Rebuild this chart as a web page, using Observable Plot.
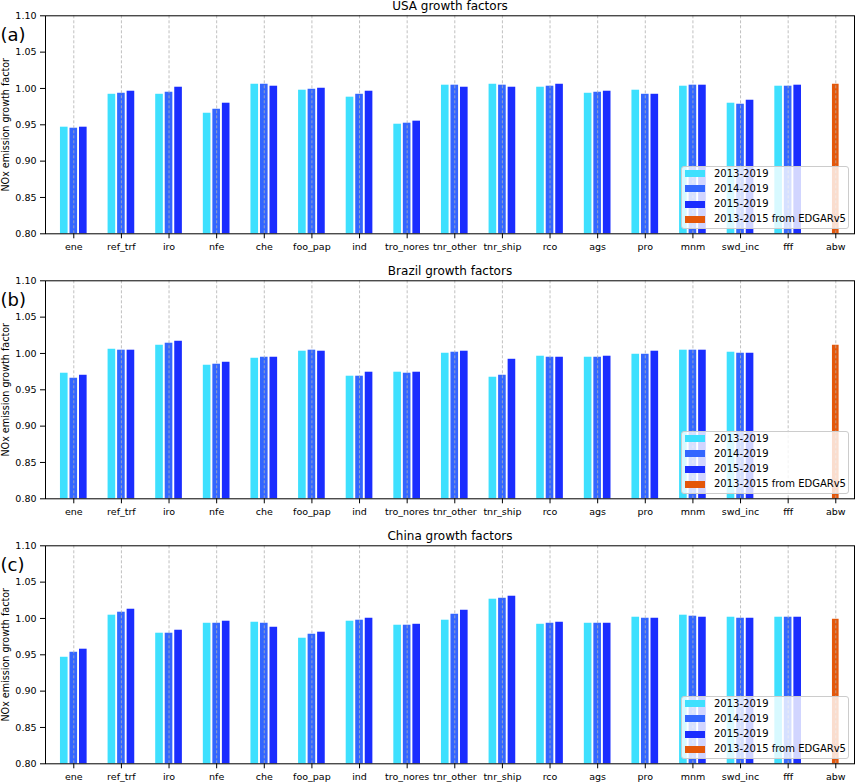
<!DOCTYPE html>
<html>
<head>
<meta charset="utf-8">
<script src="https://cdn.jsdelivr.net/npm/d3@7"></script>
<script src="https://cdn.jsdelivr.net/npm/@observablehq/plot@0.6"></script>
<style>
  html, body { margin: 0; padding: 0; background: white; overflow: hidden; }
  body { width: 855px; height: 783px; font-family: "DejaVu Sans", sans-serif; }
  .panel { position: relative; width: 855px; }
  .legend { position: absolute; left: 681px; top: 165.5px; width: 168px; height: 63px;
    background: rgba(255,255,255,0.8); border: 1px solid #cccccc; border-radius: 3px; box-sizing: border-box; }
  .legend .sw { position: absolute; left: 3px; width: 20px; height: 7px; }
  .legend .lb { position: absolute; left: 32px; font-size: 10px; line-height: 12px; color: black; white-space: nowrap; }
</style>
</head>
<body>
<div id="root"></div>
<script>
// ---------- data ----------
const categories = ["ene","ref_trf","iro","nfe","che","foo_pap","ind","tro_nores","tnr_other","tnr_ship","rco","ags","pro","mnm","swd_inc","fff","abw"];
const seriesNames = ["2013-2019","2014-2019","2015-2019","2013-2015 from EDGARv5"];
const seriesColors = ["#3ee0fe","#3366ff","#1a2dff","#e4570a"];
const yTicks = [0.80,0.85,0.90,0.95,1.00,1.05,1.10];
const panelTitles = ["USA growth factors","Brazil growth factors","China growth factors"];
const panelLetters = ["(a)","(b)","(c)"];

const usa2013 = [0.9467,0.9920,0.9920,0.9659,1.0058,0.9976,0.9880,0.9508,1.0045,1.0058,1.0017,0.9934,0.9976,1.0031,0.9797,1.0031,null];
const usa2014 = [0.9453,0.9934,0.9948,0.9714,1.0058,0.9989,0.9920,0.9522,1.0045,1.0045,1.0031,0.9948,0.9920,1.0045,0.9783,1.0031,null];
const usa2015 = [0.9467,0.9962,1.0017,0.9797,1.0031,1.0003,0.9962,0.9550,1.0017,1.0017,1.0058,0.9962,0.9920,1.0045,0.9838,1.0045,null];
const usaEdgar = [null,null,null,null,null,null,null,null,null,null,null,null,null,null,null,null,1.0058];

const bra2013 = [0.9728,1.0058,1.0113,0.9838,0.9934,1.0031,0.9687,0.9742,1.0003,0.9673,0.9962,0.9948,0.9989,1.0045,1.0017,null,null];
const bra2014 = [0.9659,1.0045,1.0141,0.9852,0.9948,1.0045,0.9687,0.9728,1.0017,0.9700,0.9948,0.9948,0.9989,1.0045,1.0003,null,null];
const bra2015 = [0.9700,1.0045,1.0168,0.9879,0.9948,1.0031,0.9742,0.9742,1.0031,0.9920,0.9948,0.9962,1.0031,1.0045,1.0003,null,null];
const braEdgar = [null,null,null,null,null,null,null,null,null,null,null,null,null,null,null,null,1.0113];

const chn2013 = [0.9466,1.0045,0.9797,0.9934,0.9948,0.9728,0.9962,0.9907,0.9976,1.0265,0.9920,0.9934,1.0017,1.0045,1.0017,1.0017,null];
const chn2014 = [0.9535,1.0086,0.9797,0.9934,0.9934,0.9783,0.9976,0.9907,1.0058,1.0278,0.9934,0.9934,1.0003,1.0031,1.0003,1.0017,null];
const chn2015 = [0.9577,1.0127,0.9838,0.9962,0.9879,0.9811,1.0003,0.9920,1.0113,1.0306,0.9948,0.9934,1.0003,1.0017,1.0003,1.0017,null];
const chnEdgar = [null,null,null,null,null,null,null,null,null,null,null,null,null,null,null,null,0.9989];

const panels = [
  [usa2013, usa2014, usa2015, usaEdgar],
  [bra2013, bra2014, bra2015, braEdgar],
  [chn2013, chn2014, chn2015, chnEdgar]
];

// ---------- drawing ----------
const offsets = {"2013-2019": -0.2, "2014-2019": 0, "2015-2019": 0.2, "2013-2015 from EDGARv5": 0};
const widths = {"2013-2019": 0.16, "2014-2019": 0.16, "2015-2019": 0.16, "2013-2015 from EDGARv5": 0.14};
const indices = categories.map((c, i) => i);
const heights = [265, 265, 253];
const root = document.getElementById("root");

panels.forEach((arrs, p) => {
  const rows = [];
  arrs.forEach((arr, s) => {
    arr.forEach((v, i) => {
      if (v != null) rows.push({i, s: seriesNames[s], v});
    });
  });
  const H = heights[p];
  const chart = Plot.plot({
    width: 855,
    height: H,
    marginLeft: 45,
    marginRight: 1,
    marginTop: 15.3,
    marginBottom: H - 233.3,
    style: {fontFamily: "DejaVu Sans", fontSize: "9.5px", color: "black", background: "white", overflow: "visible"},
    x: {type: "linear", domain: [-0.594, 16.393]},
    y: {domain: [0.8, 1.1]},
    color: {domain: seriesNames, range: seriesColors},
    marks: [
      Plot.rectY(rows, {
        x1: d => d.i + offsets[d.s] - widths[d.s] / 2,
        x2: d => d.i + offsets[d.s] + widths[d.s] / 2,
        y1: () => 0.8,
        y2: "v",
        fill: "s"
      }),
      Plot.ruleX(indices, {stroke: "#b0b0b0", strokeWidth: 0.8, strokeDasharray: "3,2"}),
      Plot.axisY({ticks: yTicks, tickFormat: d3.format(".2f"), tickSize: 5, tickPadding: 4, label: null, fontSize: 9.5}),
      Plot.axisX({ticks: indices, tickFormat: i => categories[i], tickSize: 5, tickPadding: 4, label: null, fontSize: 9.5}),
      Plot.frame({stroke: "black", strokeWidth: 1}),
      Plot.text([panelTitles[p]], {frameAnchor: "top", dy: -5.5, lineAnchor: "bottom", fontSize: 12, fill: "black"}),
      Plot.text([panelLetters[p]], {frameAnchor: "top-left", dx: -45, dy: 25, lineAnchor: "bottom", textAnchor: "start", fontSize: 18, fill: "black"}),
      Plot.text(["NOx emission growth factor"], {frameAnchor: "left", dx: -37, rotate: -90, lineAnchor: "bottom", textAnchor: "middle", fontSize: 9.6, fill: "black"})
    ]
  });
  const div = document.createElement("div");
  div.className = "panel";
  div.style.height = H + "px";
  div.appendChild(chart);
  const lg = document.createElement("div");
  lg.className = "legend";
  seriesNames.forEach((name, k) => {
    const cy = 8.2 + k * 15.2;
    const sw = document.createElement("div");
    sw.className = "sw";
    sw.style.top = (cy - 3.5 - 1) + "px";
    sw.style.background = seriesColors[k];
    const lb = document.createElement("div");
    lb.className = "lb";
    lb.style.top = (cy - 6 - 1) + "px";
    lb.textContent = name;
    lg.appendChild(sw);
    lg.appendChild(lb);
  });
  div.appendChild(lg);
  root.appendChild(div);
});
</script>
</body>
</html>
